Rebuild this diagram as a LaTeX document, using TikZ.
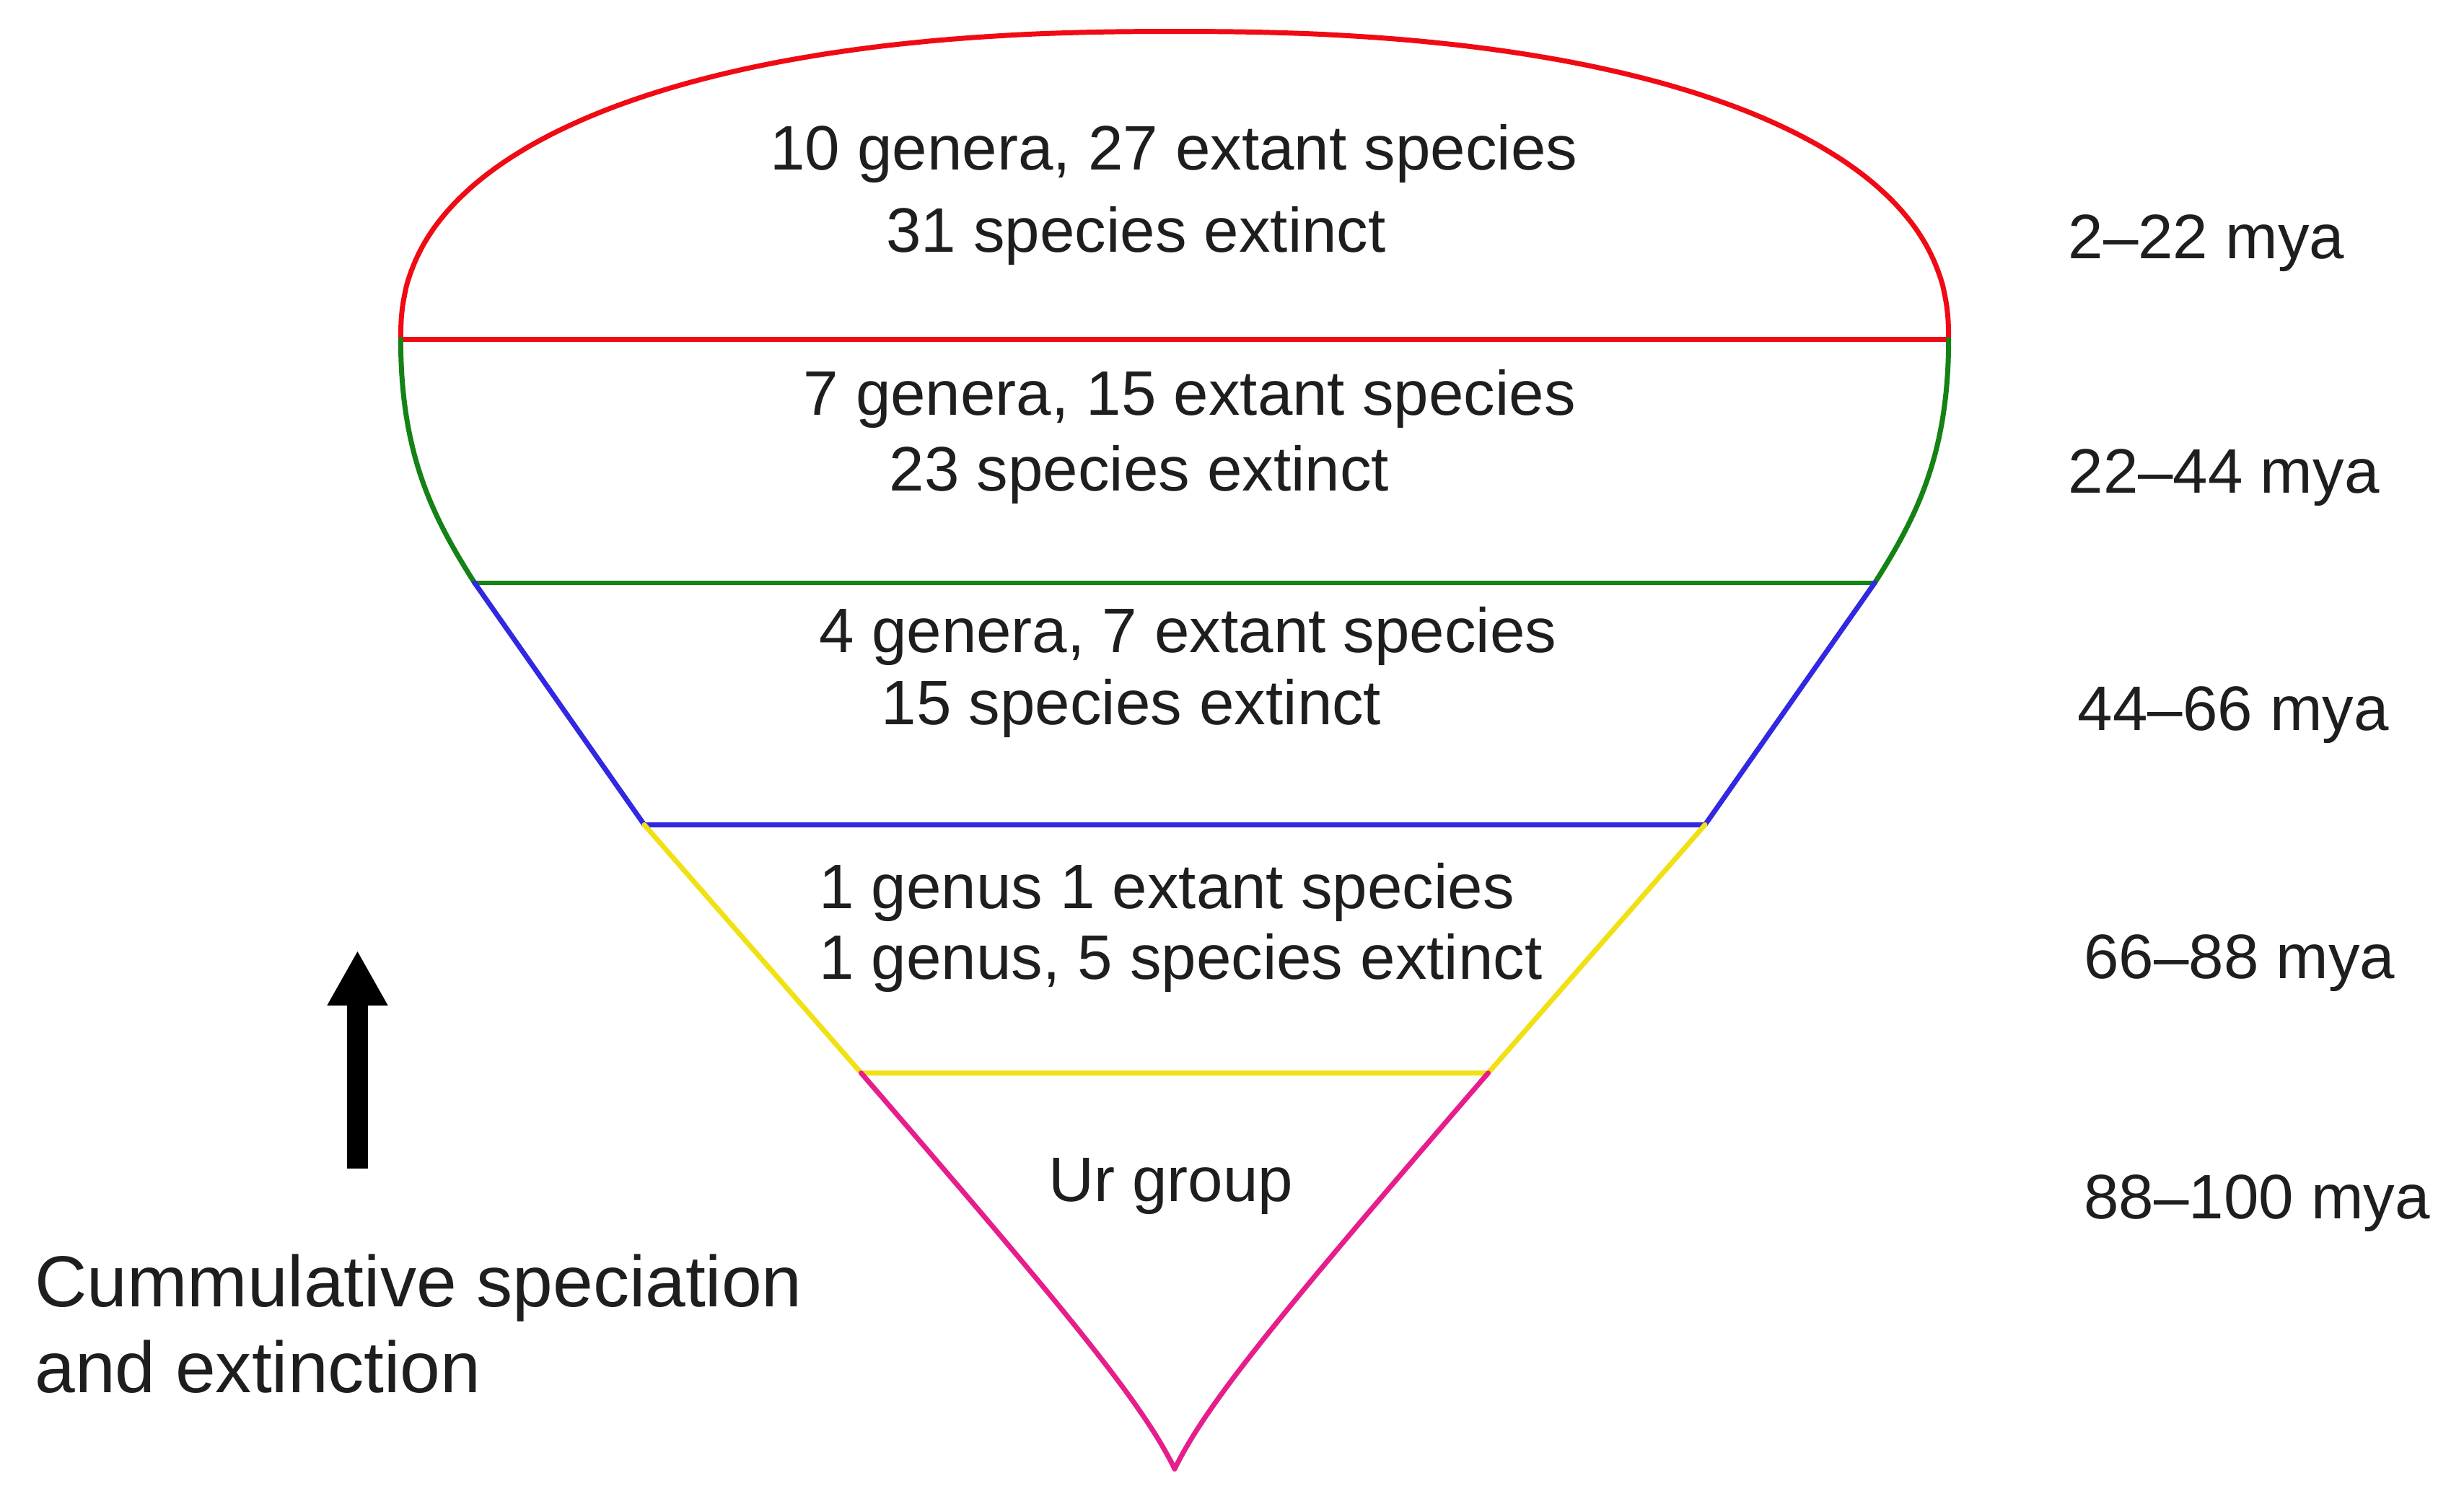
\documentclass[tikz,border=0pt]{standalone}
\usepackage{fontspec}
\setmainfont{Liberation Sans}
\usetikzlibrary{arrows.meta}
\definecolor{cred}{RGB}{240,10,20}
\definecolor{cgreen}{RGB}{20,130,20}
\definecolor{cblue}{RGB}{50,40,225}
\definecolor{cyellow}{RGB}{240,225,20}
\definecolor{cmag}{RGB}{230,30,140}
\definecolor{ctext}{RGB}{30,30,30}
\tikzset{
  edge/.style={line width=3.2pt, line cap=round, line join=round},
  lbl/.style={inner sep=0pt, text=ctext, font=\fontsize{40}{48}\selectfont},
  side/.style={inner sep=0pt, text=ctext, font=\fontsize{46}{55}\selectfont, anchor=west},
}
\begin{document}
\begin{tikzpicture}[x=1pt,y=-1pt]
\useasboundingbox (0,0) rectangle (1568,957);
% named points of the outline
\coordinate (rL) at (255,216); \coordinate (rR) at (1240,216);
\coordinate (gL) at (302,371); \coordinate (gR) at (1193,371);
\coordinate (bL) at (410,525); \coordinate (bR) at (1085,525);
\coordinate (yL) at (548,683); \coordinate (yR) at (947,683);
\coordinate (tip) at (747.5,935);
% red dome (superellipse)
\draw[edge, cred] plot[domain=180:0, samples=121, smooth, variable=\t]
  ({747.5 + 492.5*sign(cos(\t))*pow(abs(cos(\t))+0.00001,0.87)},
   {216 - 196*pow(abs(sin(\t))+0.00001,0.87)});
\draw[edge, cred] (rL) -- (rR);
% green
\draw[edge, cgreen] (rL) .. controls (255,290) and (276,330) .. (gL);
\draw[edge, cgreen] (rR) .. controls (1240,290) and (1219,330) .. (gR);
\draw[edge, cgreen] (gL) -- (gR);
% blue
\draw[edge, cblue] (gL) -- (bL);
\draw[edge, cblue] (gR) -- (bR);
\draw[edge, cblue] (bL) -- (bR);
% yellow
\draw[edge, cyellow] (bL) -- (yL);
\draw[edge, cyellow] (bR) -- (yR);
\draw[edge, cyellow] (yL) -- (yR);
% magenta
\draw[edge, cmag] (yL) .. controls (680,836) and (727,893) .. (tip);
\draw[edge, cmag] (yR) .. controls (815,836) and (768,893) .. (tip);
% texts
\node[lbl] (t1a) at (747,98) {10 genera, 27 extant species};
\node[lbl] (t1b) at (723,150) {31 species extinct};
\node[lbl] (t2a) at (757,254) {7 genera, 15 extant species};
\node[lbl] (t2b) at (725,302) {23 species extinct};
\node[lbl] (t3a) at (756,405) {4 genera, 7 extant species};
\node[lbl] (t3b) at (720,451) {15 species extinct};
\node[lbl, anchor=west] (t4a) at (521,568) {1 genus 1 extant species};
\node[lbl, anchor=west] (t4b) at (521,613) {1 genus, 5 species extinct};
\node[lbl] (t5) at (745,755) {Ur group};
\node[lbl, anchor=west] (m1) at (1316,155) {2–22 mya};
\node[lbl, anchor=west] (m2) at (1316,304) {22–44 mya};
\node[lbl, anchor=west] (m3) at (1322,455) {44–66 mya};
\node[lbl, anchor=west] (m4) at (1326,613) {66–88 mya};
\node[lbl, anchor=west] (m5) at (1326,766) {88–100 mya};
\node[side] (c1) at (22,820) {Cummulative speciation};
\node[side] (c2) at (22,870) {and extinction};
% arrow
\coordinate (a0) at (227.5,744);
\coordinate (a1) at (227.5,605);
\draw[line width=13.5pt, -{Triangle[width=36pt,length=35pt]}, black] (a0) -- (a1);
\end{tikzpicture}
\end{document}
